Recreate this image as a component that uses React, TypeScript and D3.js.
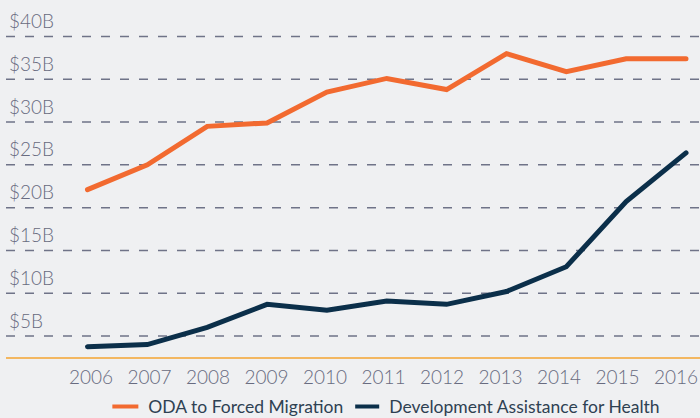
import React, { useEffect, useRef } from "react";
import * as d3 from "d3";

const years = [2006, 2007, 2008, 2009, 2010, 2011, 2012, 2013, 2014, 2015, 2016];
const odaForcedMigration = [22.1, 25.0, 29.5, 29.9, 33.5, 35.1, 33.8, 38.0, 35.9, 37.4, 37.4];
const healthAssistance = [3.75, 4.0, 6.0, 8.7, 8.0, 9.1, 8.7, 10.2, 13.1, 20.7, 26.4];
const yTicks = [5, 10, 15, 20, 25, 30, 35, 40];
const yTickLabels = ["$5B", "$10B", "$15B", "$20B", "$25B", "$30B", "$35B", "$40B"];
const seriesNames = ["ODA to Forced Migration", "Development Assistance for Health"];
const seriesColors = ["#f26a30", "#0b2f4a"];

const FONT = "Lato, 'Open Sans', sans-serif";

export default function App() {
  const ref = useRef<SVGSVGElement>(null);

  useEffect(() => {
    const svg = d3.select(ref.current);
    svg.selectAll("*").remove();
    const W = 700, H = 418;

    svg.append("rect").attr("width", W).attr("height", H).attr("fill", "#eff0f2");

    const x = d3.scaleLinear().domain([2006, 2016]).range([87.5, 686]);
    const y = d3.scaleLinear().domain([2.43, 40]).range([358, 36.5]);

    // gridlines
    const grid = svg.append("g");
    grid.selectAll("line").data(yTicks).join("line")
      .attr("x1", 6).attr("x2", W)
      .attr("y1", d => y(d)).attr("y2", d => y(d))
      .attr("stroke", "#6f7388").attr("stroke-width", 1.5)
      .attr("stroke-dasharray", "9 10");

    // y labels
    svg.append("g").selectAll("text").data(yTicks).join("text")
      .attr("x", 9).attr("y", d => y(d) - 8.5)
      .attr("font-family", FONT).attr("font-size", 19).attr("font-weight", 300)
      .attr("fill", "#686b80")
      .text((d, i) => yTickLabels[i]);

    // baseline axis
    svg.append("line")
      .attr("x1", 6).attr("x2", W)
      .attr("y1", y(2.43)).attr("y2", y(2.43))
      .attr("stroke", "#f5a531").attr("stroke-width", 1.5);

    // lines
    const line = d3.line<number>().x((d, i) => x(years[i])).y(d => y(d));
    [odaForcedMigration, healthAssistance].forEach((vals, k) => {
      svg.append("path").datum(vals)
        .attr("d", line)
        .attr("fill", "none")
        .attr("stroke", seriesColors[k])
        .attr("stroke-width", 5)
        .attr("stroke-linejoin", "miter")
        .attr("stroke-linecap", "round");
    });

    // x labels: spread between left and right edges
    const xl = svg.append("g");
    const texts = xl.selectAll("text").data(years).join("text")
      .attr("y", 384)
      .attr("font-family", FONT).attr("font-size", 19).attr("font-weight", 300)
      .attr("fill", "#686b80")
      .text(d => String(d));
    const widths: number[] = [];
    texts.each(function () { widths.push((this as SVGTextElement).getComputedTextLength()); });
    const left = 69, right = 698;
    const total = d3.sum(widths);
    const gap = (right - left - total) / (years.length - 1);
    let cx = left;
    texts.each(function (_d, i) {
      d3.select(this).attr("x", cx);
      cx += widths[i] + gap;
    });

    // legend
    const lg = svg.append("g");
    let lx = 0;
    seriesNames.forEach((name, k) => {
      const sw = k === 0 ? 26 : 24;
      lg.append("rect").attr("x", lx).attr("y", 404.5).attr("width", sw).attr("height", 4)
        .attr("fill", seriesColors[k]);
      lx += sw + 10;
      const t = lg.append("text").attr("x", lx).attr("y", 413)
        .attr("font-family", FONT).attr("font-size", 17.5)
        .attr("fill", "#2e4152").text(name);
      lx += (t.node() as SVGTextElement).getComputedTextLength() + 12;
    });
    const legendW = lx - 12;
    lg.attr("transform", `translate(${386 - legendW / 2},0)`);
  }, []);

  return (
    <svg ref={ref} width={700} height={418} style={{ position: "fixed", left: 0, top: 0 }} />
  );
}
